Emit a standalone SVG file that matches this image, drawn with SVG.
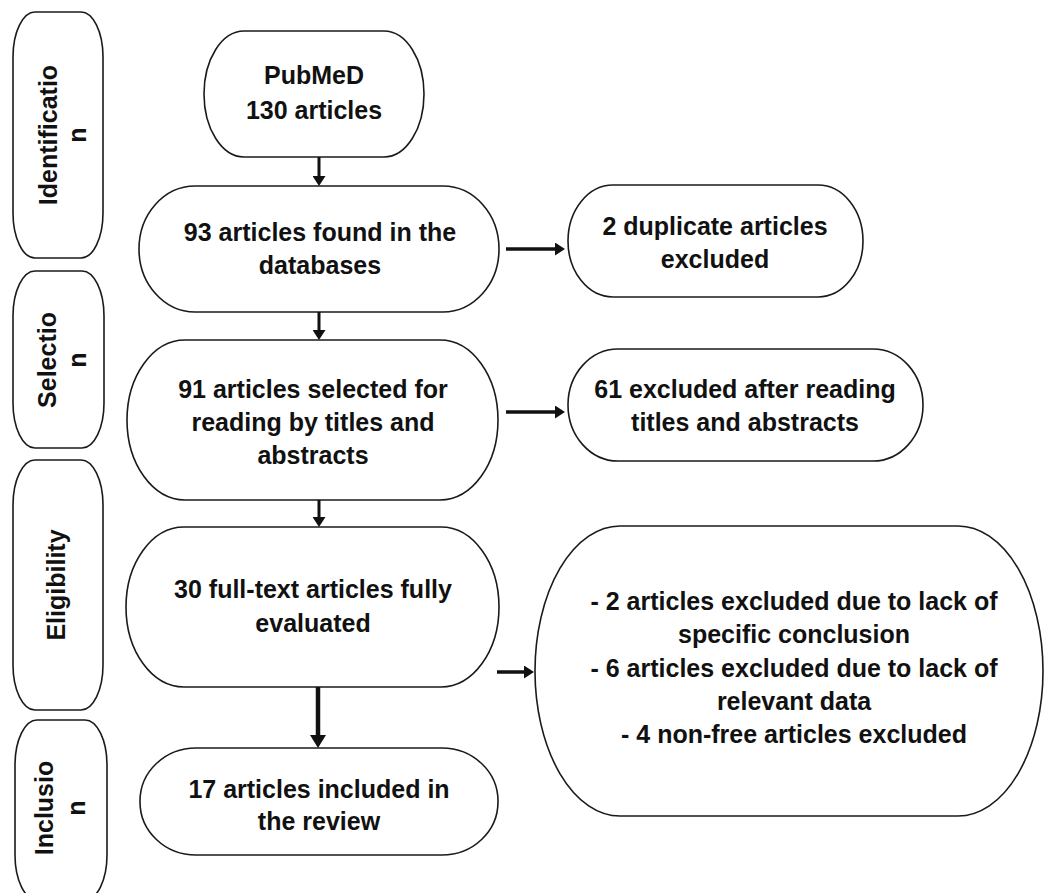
<svg xmlns="http://www.w3.org/2000/svg" width="1045" height="893" viewBox="0 0 1045 893">
<style>
.box{fill:#fff;stroke:#1a1a1a;stroke-width:1.6}
.t{font-family:"Liberation Sans",Arial,Helvetica,sans-serif;font-weight:bold;font-size:25px;fill:#111;text-anchor:middle}
.c{stroke:#111;fill:none}
</style>
<defs>
<marker id="ahS" viewBox="0 0 10 10" refX="0" refY="5" markerUnits="userSpaceOnUse" markerWidth="10" markerHeight="13" preserveAspectRatio="none" orient="auto"><path d="M0,0 L10,5 L0,10 z" fill="#111"/></marker>
<marker id="ahL" viewBox="0 0 10 10" refX="0" refY="5" markerUnits="userSpaceOnUse" markerWidth="13" markerHeight="16" preserveAspectRatio="none" orient="auto"><path d="M0,0 L10,5 L0,10 z" fill="#111"/></marker>
</defs>
<rect width="1045" height="893" fill="#fff"/>

<g id="stage-identification">
<rect class="box" x="13" y="12" width="90" height="246" rx="22" ry="45"/>
<text class="t" transform="translate(57,135) rotate(-90)"><tspan x="0" y="0">Identificatio</tspan><tspan x="0" y="29">n</tspan></text>
</g>
<g id="stage-selection">
<rect class="box" x="13" y="271" width="91" height="177" rx="22" ry="45"/>
<text class="t" transform="translate(56,360) rotate(-90)"><tspan x="0" y="0">Selectio</tspan><tspan x="0" y="30">n</tspan></text>
</g>
<g id="stage-eligibility">
<rect class="box" x="13" y="460" width="90" height="250" rx="22" ry="45"/>
<text class="t" transform="translate(65,585) rotate(-90)"><tspan x="0" y="0">Eligibility</tspan></text>
</g>
<g id="stage-inclusion">
<rect class="box" x="15" y="720" width="92" height="180" rx="22" ry="45"/>
<text class="t" transform="translate(53,808) rotate(-90)"><tspan x="0" y="0">Inclusio</tspan><tspan x="0" y="32">n</tspan></text>
</g>

<g id="node-pubmed">
<rect class="box" x="204" y="31" width="220" height="126" rx="40" ry="63"/>
<text class="t"><tspan x="314" y="84">PubMeD</tspan><tspan x="314" y="119">130 articles</tspan></text>
</g>
<g id="node-found">
<rect class="box" x="139" y="186" width="360" height="126" rx="56" ry="63"/>
<text class="t"><tspan x="320" y="241">93 articles found in the</tspan><tspan x="320" y="274">databases</tspan></text>
</g>
<g id="node-selected">
<rect class="box" x="127" y="340" width="371" height="160" rx="58" ry="80"/>
<text class="t"><tspan x="313" y="398">91 articles selected for</tspan><tspan x="313" y="431">reading by titles and</tspan><tspan x="313" y="464">abstracts</tspan></text>
</g>
<g id="node-fulltext">
<rect class="box" x="126" y="527" width="373" height="160" rx="58" ry="80"/>
<text class="t"><tspan x="313" y="598">30 full-text articles fully</tspan><tspan x="313" y="632">evaluated</tspan></text>
</g>
<g id="node-included">
<rect class="box" x="140" y="748" width="358" height="107" rx="56" ry="53"/>
<text class="t"><tspan x="319" y="798">17 articles included in</tspan><tspan x="319" y="830">the review</tspan></text>
</g>
<g id="node-duplicates">
<rect class="box" x="568" y="185" width="295" height="112" rx="45" ry="56"/>
<text class="t"><tspan x="715" y="235">2 duplicate articles</tspan><tspan x="715" y="268">excluded</tspan></text>
</g>
<g id="node-excluded-titles">
<rect class="box" x="568" y="349" width="355" height="112" rx="50" ry="56"/>
<text class="t"><tspan x="745" y="398">61 excluded after reading</tspan><tspan x="745" y="431">titles and abstracts</tspan></text>
</g>
<g id="node-excluded-fulltext">
<rect class="box" x="535" y="526" width="508" height="290" rx="85" ry="145"/>
<text class="t"><tspan x="794" y="610">- 2 articles excluded due to lack of</tspan><tspan x="794" y="643">specific conclusion</tspan><tspan x="794" y="677">- 6 articles excluded due to lack of</tspan><tspan x="794" y="710">relevant data</tspan><tspan x="794" y="743">- 4 non-free articles excluded</tspan></text>
</g>

<g id="connectors">
<line class="c" x1="319" y1="157" x2="319" y2="176" stroke-width="3" marker-end="url(#ahS)"/>
<line class="c" x1="319" y1="312" x2="319" y2="330" stroke-width="3" marker-end="url(#ahS)"/>
<line class="c" x1="319" y1="500" x2="319" y2="517" stroke-width="3" marker-end="url(#ahS)"/>
<line class="c" x1="318" y1="687" x2="318" y2="735" stroke-width="4.5" marker-end="url(#ahL)"/>
<line class="c" x1="506" y1="249" x2="555" y2="249" stroke-width="3.5" marker-end="url(#ahS)"/>
<line class="c" x1="506" y1="412" x2="555" y2="412" stroke-width="3.5" marker-end="url(#ahS)"/>
<line class="c" x1="497" y1="672" x2="524" y2="672" stroke-width="3.5" marker-end="url(#ahS)"/>
</g>
</svg>
